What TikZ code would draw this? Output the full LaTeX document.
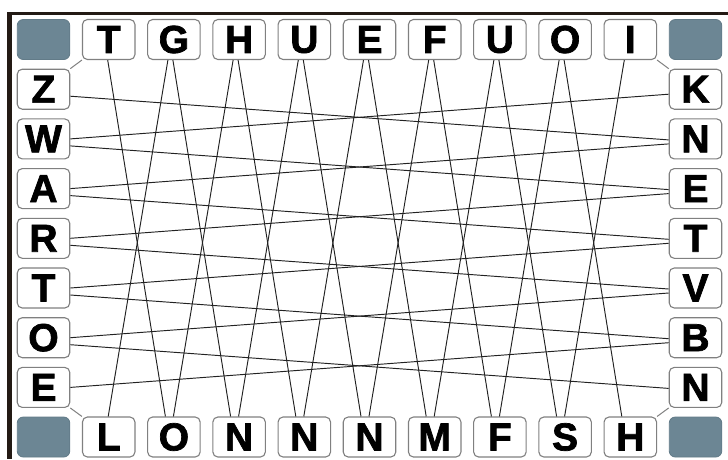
\documentclass[tikz,border=0pt]{standalone}
\usepackage{fontspec}
\setmainfont{Liberation Sans}
\newfontfamily\lettfont[BoldFeatures={FakeBold=1.8}]{Liberation Sans}
\usetikzlibrary{calc}
\definecolor{framecol}{HTML}{231A14}
\definecolor{boxgray}{HTML}{808080}
\definecolor{cornerfill}{HTML}{6C8694}
\definecolor{cornerdraw}{HTML}{627B88}
\definecolor{linkcol}{HTML}{222222}
\tikzset{
  letterbox/.style={draw=boxgray, line width=1.1pt, rounded corners=5pt, fill=white,
    minimum width=52.5pt, minimum height=40pt, inner sep=0pt,
    font=\lettfont\fontsize{39}{39}\selectfont\bfseries, text=black},
  cornerbox/.style={draw=cornerdraw, line width=0.8pt, rounded corners=6pt, fill=cornerfill,
    minimum width=52.5pt, minimum height=40pt, inner sep=0pt},
  link/.style={draw=linkcol, line width=0.95pt},
  tie/.style={draw=boxgray, line width=1pt}
}
\begin{document}
\begin{tikzpicture}[x=1pt,y=-1pt]
\useasboundingbox (0,0) rectangle (728,459);
\fill[white] (0,0) rectangle (728,459);
% frame
\fill[framecol] (7,11.5) rectangle (728,15);
\fill[framecol] (7,11.5) rectangle (11.5,459);
% corner boxes
\node[cornerbox] (c1) at (43.5,39.5) {};
\node[cornerbox] (c2) at (695.5,39.5) {};
\node[cornerbox] (c3) at (43.5,437) {};
\node[cornerbox] (c4) at (695.5,437) {};
% top row
\foreach \L [count=\i] in {T,G,H,U,E,F,U,O,I} {
  \node[letterbox] (t\i) at ({43.5+65.2*\i},39.5) {\L};
}
% bottom row
\foreach \L [count=\i] in {L,O,N,N,N,M,F,S,H} {
  \node[letterbox] (b\i) at ({43.5+65.2*\i},437) {\L};
}
% left column
\foreach \L [count=\j] in {Z,W,A,R,T,O,E} {
  \node[letterbox] (l\j) at (43.5,{39.5+49.7*\j}) {\L};
}
% right column
\foreach \L [count=\j] in {K,N,E,T,V,B,N} {
  \node[letterbox] (r\j) at (695.5,{39.5+49.7*\j}) {\L};
}
% corner ties
\draw[tie] (t1.south west) -- (l1.north east);
\draw[tie] (t9.south east) -- (r1.north west);
\draw[tie] (l7.south east) -- (b1.north west);
\draw[tie] (r7.south west) -- (b9.north east);
% vertical zigzag links
\foreach \i [evaluate=\i as \j using int(\i+1)] in {1,...,8} {
  \draw[link] ($(t\i.south)+(-1,0)$) -- ($(b\j.north)+(-8.5,0)$);
  \draw[link] ($(t\j.south)+(-6,0)$) -- ($(b\i.north)+(-0.5,0)$);
}
% horizontal zigzag links
\foreach \i [evaluate=\i as \j using int(\i+1)] in {1,...,6} {
  \draw[link] ($(l\i.east)+(0,7)$) -- ($(r\j.west)+(0,1)$);
  \draw[link] ($(l\j.east)+(0,0)$) -- ($(r\i.west)+(0,5)$);
}
\end{tikzpicture}
\end{document}
